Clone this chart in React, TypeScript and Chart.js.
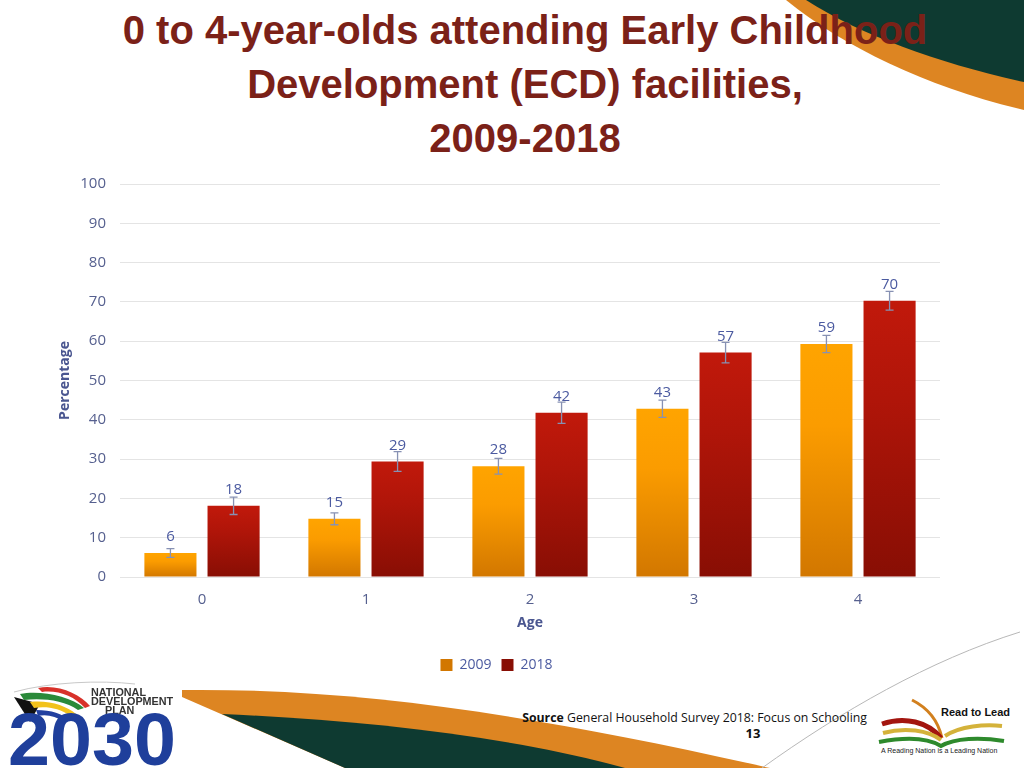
import React, { useEffect, useRef } from "react";
import { Chart, registerables } from "chart.js";

Chart.register(...registerables);

const ages = ["0", "1", "2", "3", "4"];
const values2009 = [6.1, 14.8, 28.2, 42.8, 59.3];
const values2018 = [18.1, 29.4, 41.8, 57.1, 70.3];
const labels2009 = ["6", "15", "28", "43", "59"];
const labels2018 = ["18", "29", "42", "57", "70"];
const err2009 = [1.1, 1.5, 2.0, 2.2, 2.2];
const err2018 = [2.2, 2.5, 2.7, 2.6, 2.4];
const yTicks = [0, 10, 20, 30, 40, 50, 60, 70, 80, 90, 100];

const TICK_FONT = "'Open Sans', 'DejaVu Sans', sans-serif";

function grad(top: string, mid: string, bottom: string) {
  return (ctx: any) => {
    const chart = ctx.chart;
    const area = chart.chartArea;
    if (!area || ctx.type !== "data") return mid;
    const y = chart.scales.y;
    const v = ctx.raw as number;
    const y0 = y.getPixelForValue(v);
    const y1 = y.getPixelForValue(0);
    if (!isFinite(y0) || !isFinite(y1) || y0 === y1) return mid;
    const g = chart.ctx.createLinearGradient(0, y0, 0, y1);
    g.addColorStop(0, top);
    g.addColorStop(0.35, mid);
    g.addColorStop(1, bottom);
    return g;
  };
}

const overlayPlugin = {
  id: "overlay",
  afterDatasetsDraw(chart: any) {
    const { ctx } = chart;
    const y = chart.scales.y;
    const errs = [err2009, err2018];
    const labs = [labels2009, labels2018];
    chart.data.datasets.forEach((ds: any, di: number) => {
      const meta = chart.getDatasetMeta(di);
      meta.data.forEach((bar: any, i: number) => {
        const v = ds.data[i] as number;
        const e = errs[di][i];
        const x = bar.x;
        const yt = y.getPixelForValue(v + e);
        const yb = y.getPixelForValue(v - e);
        ctx.save();
        ctx.strokeStyle = "#8791b3";
        ctx.lineWidth = 1.3;
        ctx.beginPath();
        ctx.moveTo(x, yt);
        ctx.lineTo(x, yb);
        ctx.moveTo(x - 4, yt);
        ctx.lineTo(x + 4, yt);
        ctx.moveTo(x - 4, yb);
        ctx.lineTo(x + 4, yb);
        ctx.stroke();
        ctx.fillStyle = "#4b5aa0";
        ctx.font = `15px ${TICK_FONT}`;
        ctx.textAlign = "center";
        ctx.textBaseline = "middle";
        ctx.fillText(labs[di][i], x, bar.y - 16);
        ctx.restore();
      });
    });
  },
};

export default function App() {
  const ref = useRef<HTMLCanvasElement | null>(null);

  useEffect(() => {
    if (!ref.current) return;
    const chart = new Chart(ref.current, {
      type: "bar",
      data: {
        labels: ages,
        datasets: [
          {
            label: "2009",
            data: values2009,
            backgroundColor: grad("#ffa400", "#fb9c00", "#d27700"),
            categoryPercentage: 0.77,
            barPercentage: 0.825,
          },
          {
            label: "2018",
            data: values2018,
            backgroundColor: grad("#c1190b", "#b01509", "#880e04"),
            categoryPercentage: 0.77,
            barPercentage: 0.825,
          },
        ],
      },
      options: {
        responsive: false,
        animation: false,
        layout: { padding: { top: 5, left: 53, right: 84, bottom: 8 } },
        plugins: {
          legend: {
            position: "bottom",
            labels: {
              boxWidth: 12,
              boxHeight: 12,
              padding: 10,
              color: "#4b5aa0",
              font: { family: TICK_FONT, size: 14 },
            },
          },
          tooltip: { enabled: false },
          title: { display: false },
        },
        scales: {
          x: {
            grid: { display: false, drawTicks: false },
            border: { display: false },
            afterFit: (scale: any) => {
              scale.height = 71;
            },
            ticks: {
              color: "#56608f",
              padding: 14,
              font: { family: TICK_FONT, size: 15 },
            },
            title: {
              display: true,
              text: "Age",
              color: "#4a5690",
              font: { family: TICK_FONT, size: 14, weight: "bold" },
              padding: { top: 0, bottom: 17 },
            },
          },
          y: {
            min: 0,
            max: 100,
            afterBuildTicks: (scale: any) => {
              scale.ticks = yTicks.map((v) => ({ value: v }));
            },
            afterFit: (scale: any) => {
              scale.width = 67;
            },
            grid: { color: "#e4e4e4", lineWidth: 1, drawTicks: false },
            border: { display: false },
            ticks: {
              color: "#56608f",
              padding: 14,
              font: { family: TICK_FONT, size: 15 },
            },
            title: {
              display: true,
              text: "Percentage",
              color: "#4a5690",
              font: { family: TICK_FONT, size: 14, weight: "bold" },
              padding: { top: 4, bottom: 4 },
            },
          },
        },
      },
      plugins: [overlayPlugin],
    });
    return () => chart.destroy();
  }, []);

  const titleFont = "'Liberation Sans', sans-serif";

  return (
    <div
      style={{
        position: "absolute",
        left: 0,
        top: 0,
        width: 1024,
        height: 768,
        overflow: "hidden",
        background: "#ffffff",
      }}
    >
      <svg
        width={1024}
        height={768}
        style={{ position: "absolute", left: 0, top: 0 }}
      >
        {/* top-right swoosh */}
        <path d="M 786 0 C 845 48, 930 88, 1024 110 L 1024 0 Z" fill="#dd8522" />
        <path d="M 806 0 C 862 36, 942 64, 1024 82 L 1024 0 Z" fill="#0e3a31" />
        {/* bottom swoosh */}
        <path d="M 182 690 C 360 688, 540 716, 770 768 L 345 768 L 182 697 Z" fill="#dd8522" />
        <path d="M 222 714 C 360 720, 510 736, 625 768 L 345 768 Z" fill="#0e3a31" />
        {/* thin lines */}
        <path d="M 762 768 C 840 712, 930 660, 1020 632" stroke="#b8b8b8" strokeWidth={1} fill="none" />
        <path d="M 14 692 C 50 682, 100 680, 135 684" stroke="#c8c8c8" strokeWidth={1} fill="none" />
        {/* NDP flag swirl */}
        <path d="M 14 697 L 40 704 L 30 722 Z" fill="#111111" />
        <path d="M 20 694 C 40 690, 70 696, 84 708 L 78 710 C 64 700, 42 698, 24 700 Z" fill="#2a8a3a" />
        <path d="M 38 688 C 58 684, 80 694, 90 706 L 85 708 C 74 696, 58 690, 42 692 Z" fill="#d8312a" />
        <path d="M 30 702 C 50 700, 66 706, 76 714 L 70 716 C 60 708, 46 706, 34 708 Z" fill="#f2c21b" />
        <path d="M 36 710 C 52 710, 62 714, 70 720 L 64 722 C 56 716, 46 714, 38 716 Z" fill="#2240a0" />
        {/* Read to Lead book */}
        <path d="M 912 700 C 928 708, 938 720, 942 738" stroke="#d2801e" strokeWidth={3} fill="none" />
        <path d="M 882 724 C 905 716, 928 722, 941 738" stroke="#a3150f" strokeWidth={5} fill="none" />
        <path d="M 883 733 C 905 727, 928 730, 941 740" stroke="#d4b23a" strokeWidth={4} fill="none" />
        <path d="M 945 736 C 960 726, 985 724, 1002 726" stroke="#d4b23a" strokeWidth={4} fill="none" />
        <path d="M 879 742 C 905 737, 928 738, 941 746 C 955 738, 980 737, 1004 741" stroke="#2e8a2c" strokeWidth={4} fill="none" />
      </svg>

      <div
        style={{
          position: "absolute",
          left: 0,
          top: 3,
          width: 1050,
          textAlign: "center",
          fontFamily: titleFont,
          fontWeight: "bold",
          fontSize: 40,
          lineHeight: "54px",
          color: "#7b2118",
          whiteSpace: "nowrap",
        }}
      >
        <div>0 to 4-year-olds attending Early Childhood</div>
        <div>Development (ECD) facilities,</div>
        <div>2009-2018</div>
      </div>

      <canvas
        ref={ref}
        width={1024}
        height={529}
        style={{ position: "absolute", left: 0, top: 161, width: 1024, height: 529 }}
      />

      {/* NDP logo text */}
      <div
        style={{
          position: "absolute",
          left: 91,
          top: 688,
          fontFamily: "'Liberation Sans', sans-serif",
          fontWeight: "bold",
          fontSize: 10.8,
          lineHeight: "9px",
          color: "#333333",
        }}
      >
        <div>NATIONAL</div>
        <div>DEVELOPMENT</div>
        <div style={{ paddingLeft: 14 }}>PLAN</div>
      </div>
      <div
        style={{
          position: "absolute",
          left: 8,
          top: 702,
          fontFamily: "'Liberation Sans', sans-serif",
          fontWeight: "bold",
          fontSize: 74,
          lineHeight: "76px",
          color: "#1f3f9b",
          transform: "scaleX(1.02)",
          transformOrigin: "left top",
        }}
      >
        2030
      </div>

      {/* Source */}
      <div
        style={{
          position: "absolute",
          right: 1024 - 867,
          top: 710,
          fontFamily: TICK_FONT,
          fontSize: 12.3,
          lineHeight: "16px",
          color: "#111111",
          whiteSpace: "nowrap",
        }}
      >
        <b>Source</b> General Household Survey 2018: Focus on Schooling
      </div>
      <div
        style={{
          position: "absolute",
          left: 733,
          width: 40,
          top: 724,
          textAlign: "center",
          fontFamily: TICK_FONT,
          fontWeight: "bold",
          fontSize: 13,
          lineHeight: "18px",
          color: "#111111",
        }}
      >
        13
      </div>

      {/* Read to Lead text */}
      <div
        style={{
          position: "absolute",
          left: 941,
          top: 704,
          fontFamily: "'Liberation Sans', sans-serif",
          fontWeight: "bold",
          fontSize: 11,
          lineHeight: "16px",
          color: "#111111",
          whiteSpace: "nowrap",
        }}
      >
        Read to Lead
      </div>
      <div
        style={{
          position: "absolute",
          left: 881,
          top: 746,
          fontFamily: "'Liberation Sans', sans-serif",
          fontSize: 7,
          lineHeight: "10px",
          color: "#222222",
          whiteSpace: "nowrap",
        }}
      >
        A Reading Nation is a Leading Nation
      </div>
    </div>
  );
}
